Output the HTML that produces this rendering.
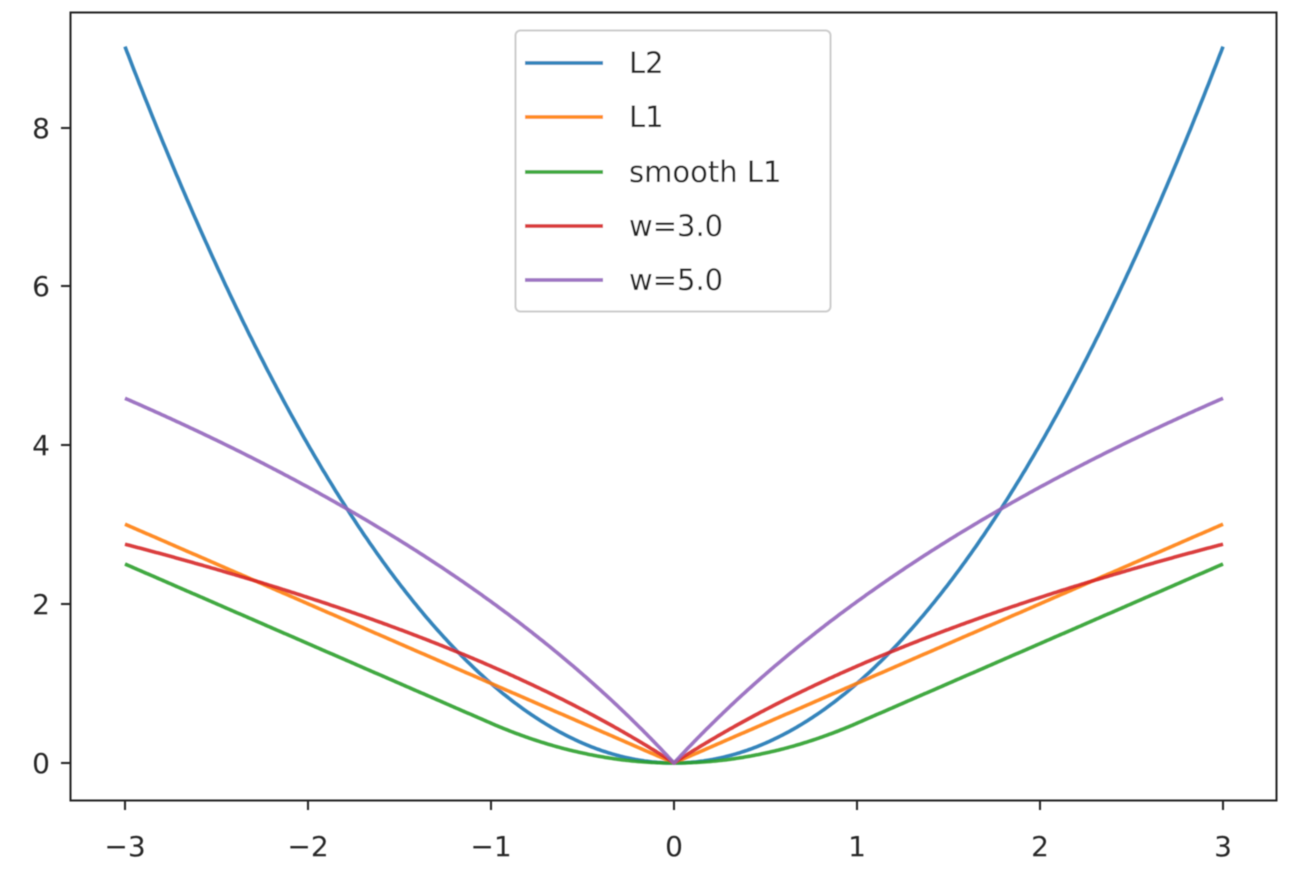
<!DOCTYPE html>
<html><head><meta charset="utf-8"><style>
html,body{margin:0;padding:0;background:#fff;}
svg text{font-family:"DejaVu Sans","Liberation Sans",sans-serif;fill:#262626;}
</style></head><body>
<svg id="s" width="1300" height="881" viewBox="0 0 1300 881" xmlns="http://www.w3.org/2000/svg">
<defs><filter id="b" x="-5%" y="-5%" width="110%" height="110%"><feGaussianBlur stdDeviation="0.5"/></filter></defs>
<rect width="1300" height="881" fill="#fff"/>
<g filter="url(#b)">
<g id="curves" fill="none" stroke-width="3.6" stroke-linejoin="round" stroke-opacity="0.9"></g>
<rect x="70.5" y="12.5" width="1206" height="788" fill="none" stroke="#222" stroke-width="2"/>
<g stroke="#222" stroke-width="2">
<line x1="125" y1="801" x2="125" y2="810"/><line x1="308" y1="801" x2="308" y2="810"/>
<line x1="491" y1="801" x2="491" y2="810"/><line x1="674" y1="801" x2="674" y2="810"/>
<line x1="857" y1="801" x2="857" y2="810"/><line x1="1040" y1="801" x2="1040" y2="810"/>
<line x1="1223" y1="801" x2="1223" y2="810"/>
<line x1="61" y1="763" x2="70" y2="763"/><line x1="61" y1="604" x2="70" y2="604"/>
<line x1="61" y1="445" x2="70" y2="445"/><line x1="61" y1="286" x2="70" y2="286"/>
<line x1="61" y1="128" x2="70" y2="128"/>
</g>
<g font-size="28" text-anchor="middle">
<text x="125" y="856">−3</text><text x="308" y="856">−2</text><text x="491" y="856">−1</text>
<text x="674" y="856">0</text><text x="857" y="856">1</text><text x="1040" y="856">2</text><text x="1223" y="856">3</text>
</g>
<g font-size="28" text-anchor="end">
<text x="50" y="773">0</text><text x="50" y="614">2</text><text x="50" y="455">4</text>
<text x="50" y="296">6</text><text x="50" y="138">8</text>
</g>
<rect x="515.5" y="30.5" width="315" height="281" rx="5" fill="#fff" fill-opacity="0.85" stroke="#ccc" stroke-width="2"/>
<g stroke-width="3.8" stroke-opacity="0.9">
<line x1="525" y1="63" x2="603" y2="63" stroke="#1f77b4"/>
<line x1="525" y1="117" x2="603" y2="117" stroke="#ff7f0e"/>
<line x1="525" y1="172" x2="603" y2="172" stroke="#2ca02c"/>
<line x1="525" y1="226" x2="603" y2="226" stroke="#d62728"/>
<line x1="525" y1="280" x2="603" y2="280" stroke="#9467bd"/>
</g>
<g font-size="29">
<text x="629" y="73">L2</text><text x="629" y="127">L1</text><text x="629" y="182">smooth L1</text>
<text x="629" y="236">w=3.0</text><text x="629" y="290">w=5.0</text>
</g>
</g>
</svg>
<script>
var fs=[["#1f77b4",function(x){return x*x}],["#ff7f0e",function(x){return Math.abs(x)}],
["#2ca02c",function(x){var a=Math.abs(x);return a<1?0.5*x*x:a-0.5}],
["#d62728",function(x){return 3*Math.log(1+Math.abs(x)/2)}],
["#9467bd",function(x){return 5*Math.log(1+Math.abs(x)/2)}]];
var g=document.getElementById("curves");
fs.forEach(function(f){var d="";for(var i=0;i<=600;i++){var x=-3+6*i/600;
var px=674+183*x,py=763-79.6*f[1](x);d+=(i?"L":"M")+px.toFixed(1)+","+py.toFixed(1);}
var p=document.createElementNS("http://www.w3.org/2000/svg","path");p.setAttribute("d",d);p.setAttribute("stroke",f[0]);g.appendChild(p);});
</script>
</body></html>
